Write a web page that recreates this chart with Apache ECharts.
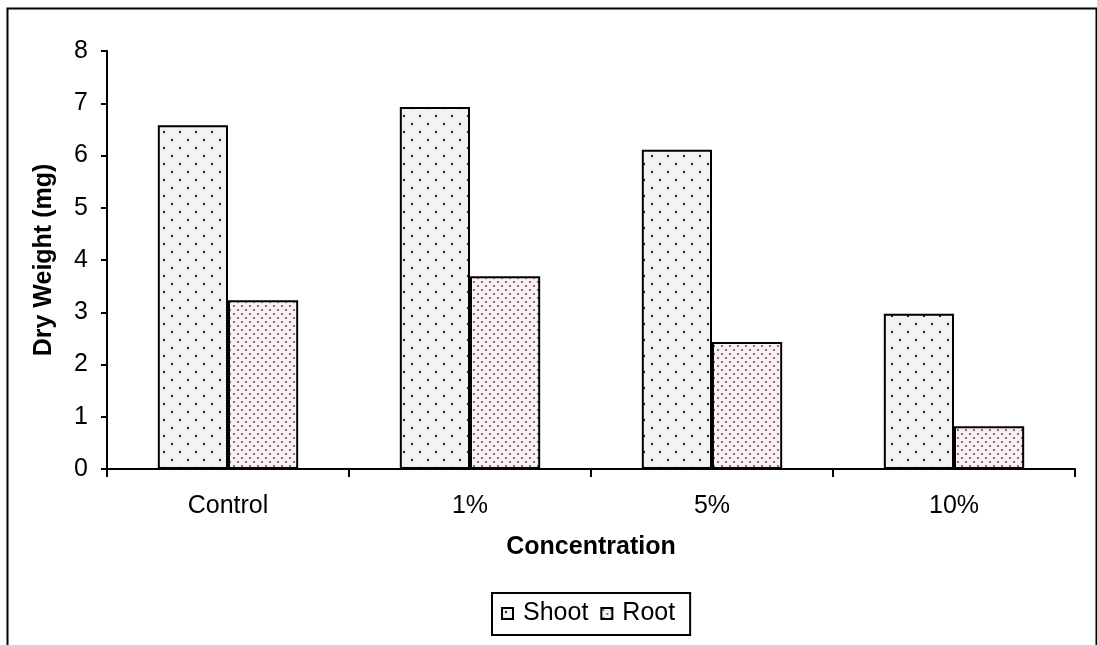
<!DOCTYPE html>
<html><head><meta charset="utf-8">
<script src="https://cdn.jsdelivr.net/npm/echarts@6/dist/echarts.min.js"></script>
<style>html,body{margin:0;padding:0;background:#fff}#c{width:1097px;height:645px}</style>
</head><body><div id="c"></div>
<script>
const categories = ['Control', '1%', '5%', '10%'];
const shootValues = [6.58, 6.93, 6.11, 2.97];
const rootValues = [3.23, 3.69, 2.43, 0.82];
const yTicks = { min: 0, max: 8, interval: 1 };

function makePattern(size, bg, dots, dotColor, r) {
  const c = document.createElement('canvas');
  c.width = size; c.height = size;
  const g = c.getContext('2d');
  g.fillStyle = bg; g.fillRect(0, 0, size, size);
  g.fillStyle = dotColor;
  dots.forEach(d => { g.beginPath(); g.arc(d[0], d[1], r, 0, Math.PI * 2); g.fill(); });
  return c;
}
const shootPat = makePattern(16, '#f3f3f3', [[4, 4], [12, 12]], '#2a2a2a', 1.2);
const rootPat = makePattern(8, '#fbeef3', [[2, 2], [6, 6]], '#5f5358', 1.05);

const font = '"Liberation Sans", Arial, sans-serif';
const chart = echarts.init(document.getElementById('c'));
chart.setOption({
  animation: false,
  backgroundColor: '#fff',
  grid: { left: 107, right: 22, top: 51, bottom: 176, containLabel: false },
  graphic: [{
    type: 'rect', left: 5, top: 6, silent: true,
    shape: { x: 0, y: 0, width: 1089, height: 700 },
    style: { fill: 'none', stroke: '#000', lineWidth: 2 }
  }],
  legend: {
    top: 593, left: 492,
    data: ['Shoot', 'Root'],
    itemWidth: 11, itemHeight: 11, itemGap: 12,
    padding: [8, 15, 9, 9],
    borderColor: '#000', borderWidth: 2,
    icon: 'rect',
    itemStyle: { borderColor: '#000', borderWidth: 2 },
    textStyle: { fontFamily: font, fontSize: 25, color: '#000', padding: [0, 0, 0, 5] }
  },
  xAxis: {
    type: 'category', data: categories,
    name: 'Concentration', nameLocation: 'middle', nameGap: 66,
    nameTextStyle: { fontFamily: font, fontSize: 25, fontWeight: 'bold', color: '#000' },
    axisLine: { lineStyle: { color: '#000', width: 2 } },
    axisTick: { show: true, length: 8, lineStyle: { color: '#000', width: 2 } },
    axisLabel: { fontFamily: font, fontSize: 25, color: '#000', margin: 25 }
  },
  yAxis: {
    type: 'value', min: yTicks.min, max: yTicks.max, interval: yTicks.interval,
    name: 'Dry Weight (mg)', nameLocation: 'middle', nameGap: 50,
    nameTextStyle: { fontFamily: font, fontSize: 25, fontWeight: 'bold', color: '#000' },
    axisLine: { show: true, lineStyle: { color: '#000', width: 2 } },
    axisTick: { show: true, length: 6, lineStyle: { color: '#000', width: 2 } },
    axisLabel: { fontFamily: font, fontSize: 25, color: '#000', margin: 19 },
    splitLine: { show: false }
  },
  series: [
    { name: 'Shoot', type: 'bar', data: shootValues, barGap: '0%', barCategoryGap: '42%',
      itemStyle: { color: { image: shootPat, repeat: 'repeat' }, borderColor: '#000', borderWidth: 2 } },
    { name: 'Root', type: 'bar', data: rootValues,
      itemStyle: { color: { image: rootPat, repeat: 'repeat' }, borderColor: '#000', borderWidth: 2 } }
  ]
});
</script></body></html>
